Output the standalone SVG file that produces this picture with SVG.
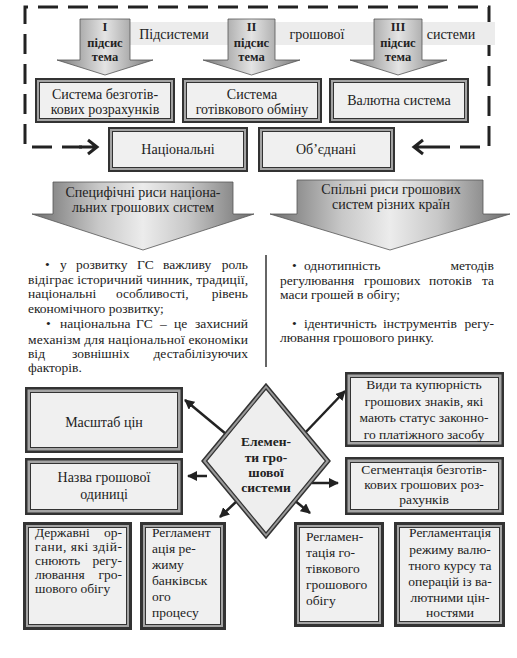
<svg xmlns="http://www.w3.org/2000/svg" width="517" height="658" viewBox="0 0 517 658" font-family="Liberation Serif" font-size="13.5">
<defs>
<linearGradient id="ga" x1="0" y1="0" x2="1" y2="0">
<stop offset="0" stop-color="#7a7a7a"/><stop offset="0.5" stop-color="#e4e4e4"/><stop offset="1" stop-color="#7a7a7a"/>
</linearGradient>
<linearGradient id="gb" x1="0" y1="0" x2="1" y2="0">
<stop offset="0" stop-color="#6e6e6e"/><stop offset="0.3" stop-color="#c8c8c8"/><stop offset="0.5" stop-color="#ececec"/><stop offset="0.7" stop-color="#c8c8c8"/><stop offset="1" stop-color="#6e6e6e"/>
</linearGradient>
<marker id="ah" viewBox="0 0 10 10" refX="9" refY="5" markerWidth="4" markerHeight="4" orient="auto">
<path d="M0,0 L10,5 L0,10 z" fill="#222"/>
</marker>
</defs>
<style>
text{fill:#222}
.c{text-anchor:middle}
.e{text-anchor:end}
.b{font-weight:bold}
.h{font-size:14px}
.o{fill:#333}
.m{fill:#a4a4a4}
.f{fill:#f0f0f0}
.ar{fill:url(#ga);stroke:#555;stroke-width:0.8}
.big{fill:url(#gb);stroke:#555;stroke-width:0.8}
.cn{stroke:#222;stroke-width:2.5;fill:none;marker-end:url(#ah)}
.dash{stroke:#222;stroke-width:3;fill:none;stroke-dasharray:20 10}
.chev{stroke:#222;stroke-width:3;fill:none}
</style>
<rect width="517" height="658" fill="#fff"/>

<g id="frame">
<path class="dash" d="M82 147 H25 V7 H489 V147 H432"/>
<path class="chev" d="M79 147 H96 M88 140 L97 147 L88 154"/>
<path class="chev" d="M432 147 H415 M423 140 L414 147 L423 154"/>
</g>

<g id="band">
<rect x="130" y="22" width="365" height="23" fill="#ececec"/>
<text class="c h" x="174" y="39">Підсистеми</text>
<text class="c h" x="317" y="39">грошової</text>
<text class="c h" x="451" y="39">системи</text>
</g>

<g id="sub1">
<polygon class="ar" points="80,19 130,19 130,60 153,60 105,75 57,60 80,60"/>
<text class="c b" x="105" y="31" font-size="12.5">I</text>
<text class="c b" x="105" y="47" font-size="12.5">підсис</text>
<text class="c b" x="105" y="61" font-size="12.5">тема</text>
</g>
<g id="sub2">
<polygon class="ar" points="228,19 275,19 275,60 300,60 251.5,75 203,60 228,60"/>
<text class="c b" x="251.5" y="31" font-size="12.5">II</text>
<text class="c b" x="251.5" y="47" font-size="12.5">підсис</text>
<text class="c b" x="251.5" y="61" font-size="12.5">тема</text>
</g>
<g id="sub3">
<polygon class="ar" points="374,19 422,19 422,60 447,60 398,75 350,60 374,60"/>
<text class="c b" x="398" y="31" font-size="12.5">III</text>
<text class="c b" x="398" y="47" font-size="12.5">підсис</text>
<text class="c b" x="398" y="61" font-size="12.5">тема</text>
</g>

<g id="box-bezgot">
<rect class="o" x="35" y="78" width="140" height="45"/><rect class="m" x="37" y="80" width="136" height="41"/><rect class="o" x="39" y="82" width="132" height="37"/><rect class="f" x="40" y="83" width="130" height="35"/>
<text class="c h" x="105" y="99">Система безготів-</text>
<text class="c h" x="105" y="114">кових розрахунків</text>
</g>
<g id="box-gotiv">
<rect class="o" x="182" y="78" width="140" height="45"/><rect class="m" x="184" y="80" width="136" height="41"/><rect class="o" x="186" y="82" width="132" height="37"/><rect class="f" x="187" y="83" width="130" height="35"/>
<text class="c h" x="252" y="99">Система</text>
<text class="c h" x="252" y="114">готівкового обміну</text>
</g>
<g id="box-valut">
<rect class="o" x="329" y="78" width="140" height="45"/><rect class="m" x="331" y="80" width="136" height="41"/><rect class="o" x="333" y="82" width="132" height="37"/><rect class="f" x="334" y="83" width="130" height="35"/>
<text class="c h" x="399" y="105">Валютна система</text>
</g>
<g id="box-nats">
<rect class="o" x="108" y="127" width="140" height="45"/><rect class="m" x="110" y="129" width="136" height="41"/><rect class="o" x="112" y="131" width="132" height="37"/><rect class="f" x="113" y="132" width="130" height="35"/>
<text class="c h" x="178" y="154">Національні</text>
</g>
<g id="box-obyed">
<rect class="o" x="258" y="127" width="137" height="45"/><rect class="m" x="260" y="129" width="133" height="41"/><rect class="o" x="262" y="131" width="129" height="37"/><rect class="f" x="263" y="132" width="127" height="35"/>
<text class="c h" x="326" y="154">Об’єднані</text>
</g>

<g id="arrow-specific">
<polygon class="big" points="53,182 233,182 233,214 254,214 143,250 32,214 53,214"/>
<text class="c h" x="143" y="197">Специфічні риси націона-</text>
<text class="c h" x="143" y="212">льних грошових систем</text>
</g>
<g id="arrow-common">
<polygon class="big" points="297,180 483,180 483,214 510,214 390,250 270,214 297,214"/>
<text class="c h" x="391" y="194">Спільні риси грошових</text>
<text class="c h" x="391" y="209">систем різних країн</text>
</g>

<g id="text-specific">
<text x="45" y="269">•</text>
<text x="60" y="269">у</text>
<text x="76" y="269">розвитку</text>
<text x="137" y="269">ГС</text>
<text x="163" y="269">важливу</text>
<text class="e" x="248" y="269">роль</text>
<text x="28" y="284" textLength="220" lengthAdjust="spacing">відіграє історичний чинник, традиції,</text>
<text x="28" y="298">національні</text>
<text x="116" y="298">особливості,</text>
<text class="e" x="248" y="298">рівень</text>
<text x="28" y="313">економічного розвитку;</text>
<text x="46" y="328">•</text>
<text x="60" y="328">національна</text>
<text x="136" y="328">ГС</text>
<text x="160" y="328">–</text>
<text x="174" y="328">це</text>
<text class="e" x="248" y="328">захисний</text>
<text x="28" y="344" textLength="220" lengthAdjust="spacing">механізм для національної економіки</text>
<text x="28" y="358">від</text>
<text x="72" y="358">зовнішніх</text>
<text class="e" x="248" y="358">дестабілізуючих</text>
<text x="28" y="372">факторів.</text>
</g>

<line id="separator" x1="266" y1="255" x2="266" y2="367" stroke="#666" stroke-width="2"/>

<g id="text-common">
<text x="292" y="270">•</text>
<text x="304" y="270">однотипність</text>
<text class="e" x="494" y="270">методів</text>
<text x="280" y="285">регулювання</text>
<text x="364" y="285">грошових</text>
<text x="429" y="285">потоків</text>
<text class="e" x="494" y="285">та</text>
<text x="280" y="299">маси грошей в обігу;</text>
<text x="292" y="328">•</text>
<text x="304" y="328">ідентичність</text>
<text x="383" y="328">інструментів</text>
<text class="e" x="494" y="328">регу-</text>
<text x="280" y="342">лювання грошового ринку.</text>
</g>

<g id="connectors">
<line class="cn" x1="226" y1="434" x2="185" y2="400"/>
<line class="cn" x1="207" y1="476" x2="188" y2="476"/>
<line class="cn" x1="238" y1="500" x2="220" y2="517"/>
<line class="cn" x1="303" y1="435" x2="345" y2="391"/>
<line class="cn" x1="312" y1="483" x2="338" y2="483"/>
<line class="cn" x1="294" y1="500" x2="310" y2="513"/>
</g>

<g id="box-masshtab">
<rect class="o" x="25" y="387" width="158" height="66"/><rect class="m" x="27.5" y="389.5" width="153" height="61"/><rect class="o" x="30" y="392" width="148" height="56"/><rect class="f" x="31" y="393" width="146" height="54"/>
<text class="c h" x="104" y="427">Масштаб цін</text>
</g>
<g id="box-nazva">
<rect class="o" x="25" y="458" width="158" height="57"/><rect class="m" x="27.5" y="460.5" width="153" height="52"/><rect class="o" x="30" y="463" width="148" height="47"/><rect class="f" x="31" y="464" width="146" height="45"/>
<text class="c h" x="104" y="482">Назва грошової</text>
<text class="c h" x="104" y="499">одиниці</text>
</g>

<g id="diamond">
<polygon points="266,384 330,461 266,538 202,461" fill="#9a9a9a" stroke="#333" stroke-width="1.5"/>
<polygon points="266,389 325.5,461 266,533 206.5,461" fill="#eeeeee" stroke="#333" stroke-width="1.2"/>
<text class="c b" x="266" y="446">Елемен-</text>
<text class="c b" x="266" y="462">ти гро-</text>
<text class="c b" x="266" y="477">шової</text>
<text class="c b" x="266" y="492">системи</text>
</g>

<g id="box-vydy">
<rect class="o" x="345" y="372" width="159" height="75"/><rect class="m" x="347.5" y="374.5" width="154" height="70"/><rect class="o" x="350" y="377" width="149" height="65"/><rect class="f" x="351" y="378" width="147" height="63"/>
<text class="c" x="424" y="389">Види та купюрність</text>
<text class="c" x="424" y="406">грошових знаків, які</text>
<text class="c" x="424" y="422">мають статус законно-</text>
<text class="c" x="424" y="439">го платіжного засобу</text>
</g>
<g id="box-segment">
<rect class="o" x="345" y="457" width="159" height="58"/><rect class="m" x="347.5" y="459.5" width="154" height="53"/><rect class="o" x="350" y="462" width="149" height="48"/><rect class="f" x="351" y="463" width="147" height="46"/>
<text class="c" x="424" y="474">Сегментація безготів-</text>
<text class="c" x="424" y="489">кових грошових роз-</text>
<text class="c" x="424" y="504">рахунків</text>
</g>

<g id="box-derzh">
<rect class="o" x="23" y="522" width="109" height="108"/><rect class="m" x="26" y="525" width="103" height="102"/><rect class="o" x="28" y="527" width="99" height="98"/><rect class="f" x="29" y="528" width="97" height="96"/>
<text x="35" y="537">Державні</text>
<text class="e" x="122" y="537">ор-</text>
<text x="35" y="551" textLength="87" lengthAdjust="spacing">гани, які здій-</text>
<text x="35" y="565">снюють</text>
<text class="e" x="122" y="565">регу-</text>
<text x="35" y="579">лювання</text>
<text class="e" x="122" y="579">гро-</text>
<text x="35" y="593">шового обігу</text>
</g>
<g id="box-bank">
<rect class="o" x="140" y="522" width="86" height="108"/><rect class="m" x="143" y="525" width="80" height="102"/><rect class="o" x="145" y="527" width="76" height="98"/><rect class="f" x="146" y="528" width="74" height="96"/>
<text x="152" y="537">Регламент</text>
<text x="152" y="553">ація ре-</text>
<text x="152" y="569">жиму</text>
<text x="152" y="585">банківськ</text>
<text x="152" y="601">ого</text>
<text x="152" y="617">процесу</text>
</g>
<g id="box-gotivk">
<rect class="o" x="294" y="522" width="90" height="105"/><rect class="m" x="297" y="525" width="84" height="99"/><rect class="o" x="299" y="527" width="80" height="95"/><rect class="f" x="300" y="528" width="78" height="93"/>
<text x="306" y="541">Регламен-</text>
<text x="306" y="557">тація го-</text>
<text x="306" y="573">тівкового</text>
<text x="306" y="589">грошового</text>
<text x="306" y="605">обігу</text>
</g>
<g id="box-valkurs">
<rect class="o" x="394" y="522" width="111" height="105"/><rect class="m" x="397" y="525" width="105" height="99"/><rect class="o" x="399" y="527" width="101" height="95"/><rect class="f" x="400" y="528" width="99" height="93"/>
<text class="c" x="450" y="537">Регламентація</text>
<text class="c" x="450" y="554">режиму валю-</text>
<text class="c" x="450" y="570">тного курсу та</text>
<text class="c" x="450" y="586">операцій із ва-</text>
<text class="c" x="450" y="602">лютними цін-</text>
<text class="c" x="450" y="617">ностями</text>
</g>
</svg>
